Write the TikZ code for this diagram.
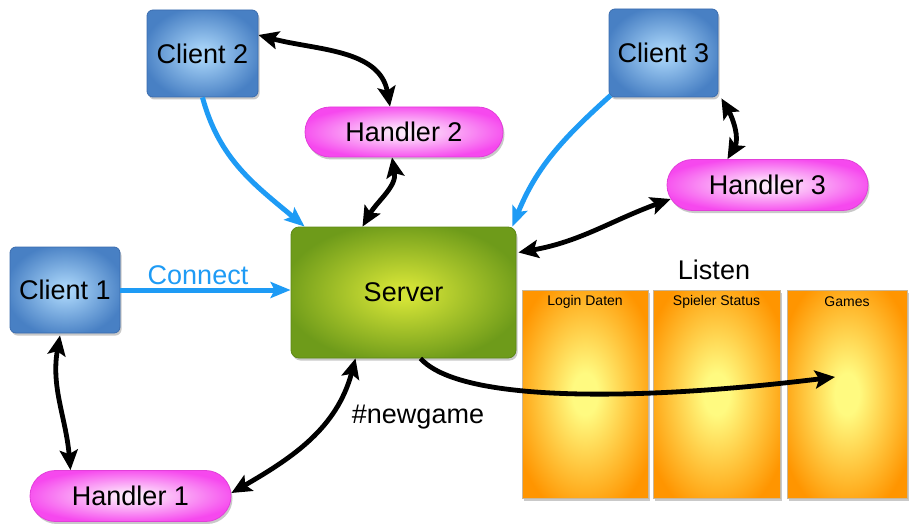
\documentclass[tikz,border=0pt]{standalone}
\usepackage{fontspec}
\setmainfont{Liberation Sans}
\usetikzlibrary{arrows.meta,shadows}
\definecolor{cliIn}{HTML}{A6D2F7}
\definecolor{cliOut}{HTML}{4880C4}
\definecolor{cliBorder}{HTML}{3A6CAE}
\definecolor{srvIn}{HTML}{D2E236}
\definecolor{srvOut}{HTML}{6E9B1A}
\definecolor{srvBorder}{HTML}{5E8916}
\definecolor{hanIn}{HTML}{FDE8FB}
\definecolor{hanOut}{HTML}{F648EE}
\definecolor{hanBorder}{HTML}{E23FD9}
\definecolor{panIn}{HTML}{FFFA80}
\definecolor{panOut}{HTML}{FF9500}
\definecolor{panBorder}{HTML}{C9B79A}
\definecolor{conBlue}{HTML}{1E9BF5}
\pgfdeclareradialshading{cliShade}{\pgfpointorigin}{color(0bp)=(cliIn); color(3bp)=(cliIn); color(27bp)=(cliOut); color(50bp)=(cliOut)}
\pgfdeclareradialshading{srvShade}{\pgfpointorigin}{color(0bp)=(srvIn); color(3bp)=(srvIn); color(27bp)=(srvOut); color(50bp)=(srvOut)}
\pgfdeclareradialshading{hanShade}{\pgfpointorigin}{color(0bp)=(hanIn); color(3bp)=(hanIn); color(27bp)=(hanOut); color(50bp)=(hanOut)}
\pgfdeclareradialshading{panShade}{\pgfpointorigin}{color(0bp)=(panIn); color(5bp)=(panIn); color(30bp)=(panOut); color(50bp)=(panOut)}
\begin{document}
\begin{tikzpicture}[x=1pt,y=1pt,
  every node/.style={font=\fontsize{27}{32}\selectfont},
  box/.style={draw, line width=0.8pt, inner sep=0pt,
    drop shadow={shadow xshift=1.5pt, shadow yshift=-2.5pt, opacity=0.3, fill=black!70}},
  client/.style={box, draw=cliBorder, rounded corners=6pt, shade, shading=cliShade},
  server/.style={box, draw=srvBorder, rounded corners=8pt, shade, shading=srvShade},
  handler/.style={box, draw=hanBorder, rounded corners=25.5pt, shade, shading=hanShade,
    minimum width=201pt, minimum height=51pt},
  panel/.style={box, draw=panBorder, shade, shading=panShade,
    minimum width=126pt, minimum height=208pt},
  ptitle/.style={font=\fontsize{14}{16}\selectfont, inner sep=0pt},
  bi/.style={line width=4.8pt, {Stealth[length=20pt,width=18pt,inset=4pt]}-{Stealth[length=20pt,width=18pt,inset=4pt]}},
  uni/.style={line width=4.8pt, -{Stealth[length=20pt,width=18pt,inset=4pt]}},
  bluearr/.style={line width=5pt, draw=conBlue, -{Stealth[length=20pt,width=16pt,inset=4pt]}}
]
\useasboundingbox (0,0) rectangle (909,523);

% nodes
\node[client, minimum width=110pt, minimum height=86pt] (c1) at (65,233) {Client 1};
\node[client, minimum width=111pt, minimum height=87pt] (c2) at (202.5,469.5) {Client 2};
\node[client, minimum width=109pt, minimum height=88pt] (c3) at (663.5,470) {Client 3};
\node[handler, minimum width=198pt, minimum height=50pt, rounded corners=25pt] (h2) at (404,391) {Handler 2};
\node[handler] (h3) at (767.5,338) {Handler 3};
\node[handler] (h1) at (130.5,27) {Handler 1};
\node[server, minimum width=225pt, minimum height=131pt] (srv) at (403.5,230.5) {Server};

\node[panel] (p1) at (585,129) {};
\node[panel, minimum width=127pt] (p2) at (716.5,129) {};
\node[panel, minimum width=120pt] (p3) at (847,129) {};
\node[ptitle] (t1) at ([yshift=-12pt]p1.north) {Login Daten};
\node[ptitle] (t2) at ([yshift=-12pt]p2.north) {Spieler Status};
\node[ptitle] (t3) at ([yshift=-12pt]p3.north) {Games};
\node (ls) at (714,253) {Listen};
\node[text=conBlue] (lc) at (198,248) {Connect};
\node (ng) at (418,106) {\#newgame};
\coordinate (gm) at (835,146);

% connectors
\draw[bluearr] (c1.east) -- (c1.east -| srv.west);
\draw[bluearr] (c2.south) to[out=-75,in=140] ([xshift=14pt]srv.north west);
\draw[bluearr] ([xshift=2pt,yshift=2pt]c3.south west) to[out=-138,in=68] ([xshift=-4pt]srv.north east);
\draw[bi] ([yshift=18.5pt]c2.east) to[out=-15,in=100] ([xshift=-14pt]h2.north);
\draw[bi] ([xshift=-12pt]h2.south) to[out=-80,in=60] ([xshift=-41pt]srv.north);
\draw[bi] ([xshift=3pt,yshift=-1pt]c3.south east) to[out=-60,in=60] ([xshift=-40pt]h3.north);
\draw[bi] ([xshift=4pt,yshift=-14pt]h3.west) to[out=-160,in=10] ([xshift=2pt,yshift=40pt]srv.east);
\draw[bi] ([xshift=-5pt,yshift=-2pt]c1.south) to[out=-100,in=95] ([xshift=-60pt]h1.north);
\draw[bi] ([yshift=3pt]h1.east) to[out=30,in=-105] ([xshift=-48pt]srv.south);
\draw[uni] ([xshift=17pt]srv.south) .. controls (460,120) and (640,122) .. (gm);
\end{tikzpicture}
\end{document}
